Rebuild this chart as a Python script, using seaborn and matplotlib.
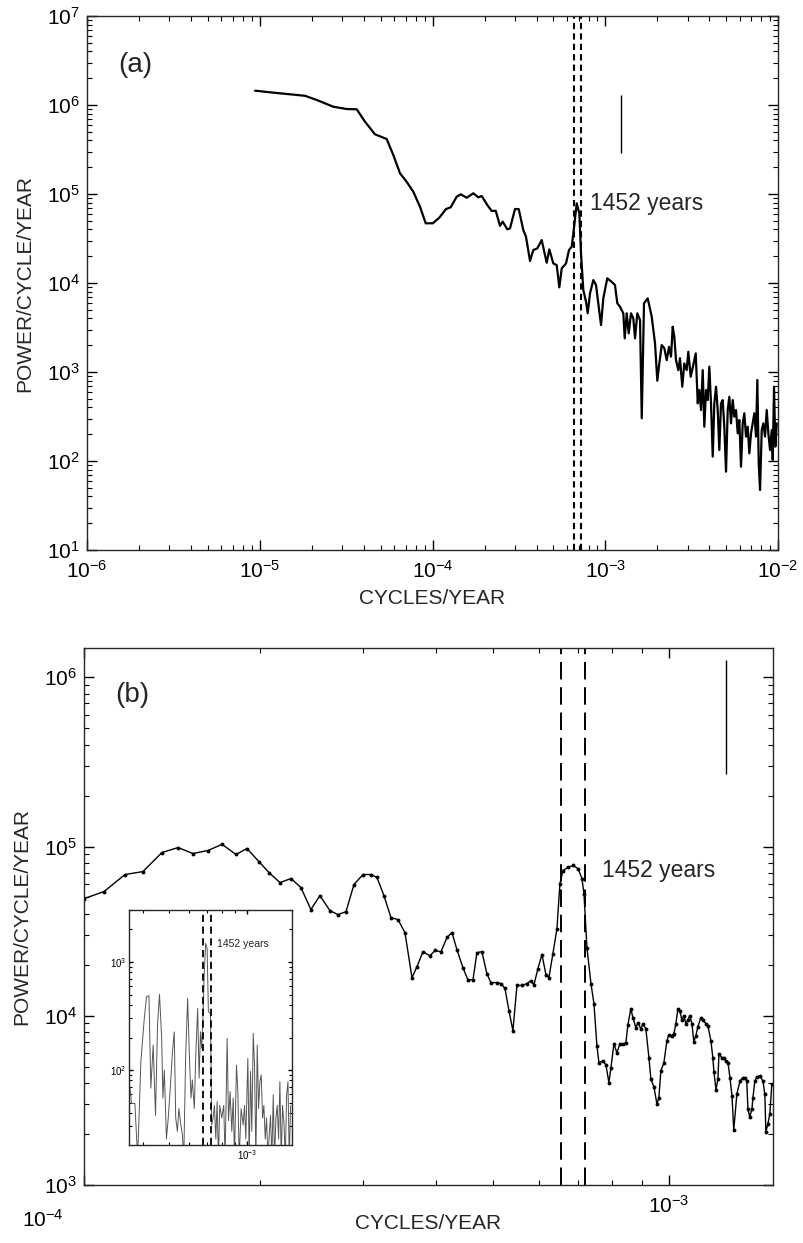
import numpy as np
import matplotlib
matplotlib.use("Agg")
import matplotlib.pyplot as plt
import matplotlib.transforms as mtransforms
import seaborn as sns
from matplotlib.ticker import LogLocator, NullFormatter

# === Data: panel (a), full spectrum ===
a_freq = [9.39e-6, 1.146e-5, 1.828e-5, 2.136e-5, 2.666e-5, 3.187e-5, 3.641e-5, 4.067e-5, 4.645e-5, 5.430e-5,
          5.932e-5, 6.485e-5, 7.089e-5, 7.744e-5, 8.465e-5, 9.133e-5, 1.003e-4, 1.095e-4, 1.197e-4, 1.274e-4,
          1.380e-4, 1.456e-4, 1.578e-4, 1.722e-4, 1.841e-4, 1.927e-4, 2.076e-4, 2.202e-4, 2.322e-4, 2.459e-4,
          2.549e-4, 2.710e-4, 2.809e-4, 3.003e-4, 3.155e-4, 3.354e-4, 3.477e-4, 3.667e-4, 3.832e-4, 4.042e-4,
          4.285e-4, 4.581e-4, 4.743e-4, 5.003e-4, 5.234e-4, 5.420e-4, 5.596e-4, 5.926e-4, 6.168e-4, 6.394e-4,
          6.620e-4, 6.834e-4, 7.076e-4, 7.237e-4, 7.462e-4, 7.736e-4, 7.913e-4, 8.159e-4, 8.526e-4, 8.840e-4,
          9.115e-4, 9.450e-4, 9.743e-4, 1.027e-3, 1.090e-3, 1.138e-3, 1.174e-3, 1.217e-3, 1.272e-3, 1.296e-3,
          1.331e-3, 1.367e-3, 1.409e-3, 1.453e-3, 1.487e-3, 1.533e-3, 1.589e-3, 1.626e-3, 1.676e-3, 1.761e-3,
          1.857e-3, 1.941e-3, 2.001e-3, 2.055e-3, 2.122e-3, 2.197e-3, 2.268e-3, 2.339e-3, 2.402e-3, 2.457e-3,
          2.510e-3, 2.567e-3, 2.647e-3, 2.707e-3, 2.791e-3, 2.867e-3, 2.960e-3, 3.024e-3, 3.123e-3, 3.233e-3,
          3.339e-3, 3.429e-3, 3.503e-3, 3.583e-3, 3.665e-3, 3.744e-3, 3.830e-3, 3.917e-3, 4.002e-3, 4.093e-3,
          4.188e-3, 4.278e-3, 4.376e-3, 4.476e-3, 4.573e-3, 4.677e-3, 4.784e-3, 4.887e-3, 5.000e-3, 5.114e-3,
          5.225e-3, 5.344e-3, 5.466e-3, 5.584e-3, 5.712e-3, 5.843e-3, 5.969e-3, 6.106e-3, 6.246e-3, 6.381e-3,
          6.527e-3, 6.676e-3, 6.821e-3, 6.978e-3, 7.137e-3, 7.292e-3, 7.459e-3, 7.589e-3, 7.732e-3, 7.868e-3,
          8.048e-3, 8.222e-3, 8.410e-3, 8.602e-3, 8.789e-3, 8.990e-3, 9.195e-3, 9.318e-3, 9.480e-3, 9.647e-3,
          9.828e-3]
a_power = [1.45e6, 1.39e6, 1.27e6, 1.14e6, 9.57e5, 9.02e5, 8.96e5, 6.49e5, 4.69e5, 4.15e5,
           2.74e5, 1.71e5, 1.37e5, 1.06e5, 7.19e4, 4.69e4, 4.69e4, 5.42e4, 6.78e4, 7.09e4,
           9.33e4, 9.93e4, 9.08e4, 1.02e5, 9.18e4, 9.50e4, 7.52e4, 6.44e4, 6.49e4, 4.40e4,
           4.89e4, 4.01e4, 4.11e4, 6.78e4, 6.78e4, 3.94e4, 3.31e4, 1.77e4, 2.35e4, 2.45e4,
           3.04e4, 1.69e4, 2.39e4, 1.66e4, 1.59e4, 8.95e3, 1.46e4, 1.66e4, 2.35e4, 2.56e4,
           4.49e4, 7.87e4, 6.07e4, 2.16e4, 8.34e3, 6.17e3, 4.57e3, 7.66e3, 1.08e4, 9.50e3,
           5.92e3, 3.37e3, 6.73e3, 1.13e4, 1.03e4, 9.50e3, 5.92e3, 5.42e3, 4.57e3, 2.39e3,
           4.57e3, 2.72e3, 4.57e3, 4.01e3, 2.39e3, 4.57e3, 3.84e3, 302, 5.92e3, 6.73e3,
           4.18e3, 2.10e3, 798, 1.25e3, 2.01e3, 1.85e3, 1.36e3, 1.92e3, 1.49e3, 3.23e3,
           2.49e3, 1.36e3, 1.05e3, 1.43e3, 684, 1.25e3, 1.05e3, 1.69e3, 885, 1.20e3,
           1.62e3, 445, 628, 374, 1.05e3, 243, 628, 484, 1.15e3, 445,
           112, 445, 684, 374, 133, 445, 484, 243, 75.9, 374,
           527, 265, 484, 315, 374, 205, 289, 86.3, 265, 344,
           188, 243, 122, 205, 265, 344, 188, 813, 94.2, 47.2,
           223, 265, 188, 374, 205, 133, 223, 103, 684, 145,
           265]

# === Data: panel (b), zoom 1e-4 .. 1.5e-3 (frequency in units of 1e-4 cycles/year) ===
b_freq_e4 = [1.000, 1.082, 1.175, 1.261, 1.359, 1.448, 1.535, 1.629, 1.722, 1.819,
             1.899, 1.991, 2.071, 2.163, 2.259, 2.349, 2.443, 2.531, 2.633, 2.718,
             2.805, 2.894, 2.999, 3.095, 3.169, 3.257, 3.348, 3.442, 3.538, 3.637,
             3.709, 3.798, 3.904, 3.981, 4.077, 4.174, 4.257, 4.341, 4.445, 4.533,
             4.624, 4.697, 4.789, 4.885, 4.962, 5.081, 5.162, 5.245, 5.328, 5.412,
             5.498, 5.607, 5.719, 5.810, 5.878, 5.972, 6.067, 6.163, 6.236, 6.335,
             6.436, 6.512, 6.590, 6.721, 6.855, 6.991, 7.102, 7.158, 7.243, 7.358,
             7.445, 7.533, 7.593, 7.714, 7.805, 7.897, 7.960, 8.054, 8.149, 8.245,
             8.344, 8.443, 8.510, 8.610, 8.680, 8.782, 8.851, 8.955, 9.027, 9.133,
             9.245, 9.315, 9.428, 9.539, 9.614, 9.690, 9.806, 9.922, 10.00, 10.12,
             10.20, 10.28, 10.36, 10.44, 10.52, 10.61, 10.69, 10.78, 10.86, 10.95,
             11.03, 11.12, 11.21, 11.34, 11.43, 11.57, 11.66, 11.80, 11.89, 11.94,
             12.04, 12.13, 12.18, 12.32, 12.42, 12.52, 12.62, 12.72, 12.82, 12.91,
             13.07, 13.23, 13.38, 13.49, 13.59, 13.65, 13.75, 13.87, 13.92, 14.03,
             14.14, 14.31, 14.48, 14.59, 14.65, 14.77, 14.88, 15.00]
b_power = [4.92e4, 5.42e4, 6.83e4, 7.11e4, 9.21e4, 9.86e4, 9.09e4, 9.47e4, 1.03e5, 8.97e4,
           9.73e4, 8.15e4, 7.02e4, 6.12e4, 6.47e4, 5.72e4, 4.24e4, 5.13e4, 4.18e4, 3.96e4,
           4.12e4, 5.96e4, 6.83e4, 6.83e4, 6.56e4, 5.13e4, 3.80e4, 3.70e4, 3.10e4, 1.68e4,
           1.95e4, 2.39e4, 2.26e4, 2.43e4, 2.39e4, 2.90e4, 3.10e4, 2.46e4, 1.92e4, 1.63e4,
           1.63e4, 2.36e4, 2.39e4, 1.77e4, 1.57e4, 1.57e4, 1.55e4, 1.45e4, 1.07e4, 8.15e3,
           1.51e4, 1.51e4, 1.55e4, 1.61e4, 1.52e4, 1.90e4, 2.30e4, 1.75e4, 1.68e4, 2.33e4,
           3.27e4, 6.04e4, 7.21e4, 7.52e4, 7.73e4, 7.41e4, 6.47e4, 5.27e4, 2.52e4, 1.55e4,
           1.18e4, 6.64e3, 5.27e3, 5.42e3, 5.13e3, 4.02e3, 4.92e3, 6.82e3, 6.04e3, 6.82e3,
           6.82e3, 6.92e3, 8.85e3, 1.10e4, 9.73e3, 8.49e3, 9.10e3, 8.38e3, 8.97e3, 8.38e3,
           5.64e3, 4.24e3, 3.80e3, 3.01e3, 3.27e3, 4.73e3, 5.27e3, 7.11e3, 7.73e3, 7.62e3,
           7.82e3, 8.97e3, 1.10e4, 1.07e4, 9.47e3, 1.0e4, 8.97e3, 9.47e3, 1.0e4, 8.97e3,
           7.02e3, 7.62e3, 8.61e3, 9.73e3, 9.47e3, 8.97e3, 8.73e3, 7.11e3, 5.64e3, 4.67e3,
           3.65e3, 4.24e3, 5.96e3, 5.64e3, 5.64e3, 5.42e3, 5.27e3, 4.30e3, 3.37e3, 2.11e3,
           3.45e3, 4.12e3, 4.30e3, 4.30e3, 4.12e3, 2.82e3, 2.52e3, 2.82e3, 3.27e3, 4.12e3,
           4.36e3, 4.41e3, 4.12e3, 3.45e3, 2.06e3, 2.30e3, 2.63e3, 3.96e3]

# === Data: inset (frequency in units of 1e-4 cycles/year) ===
in_freq_e4 = [3.55, 3.60, 3.71, 3.80, 3.91, 4.03, 4.11, 4.20, 4.27, 4.36,
              4.45, 4.53, 4.61, 4.70, 4.75, 4.81, 4.90, 4.98, 5.07, 5.16,
              5.25, 5.32, 5.40, 5.47, 5.56, 5.64, 5.71, 5.81, 5.91, 6.02,
              6.09, 6.16, 6.27, 6.35, 6.46, 6.54, 6.62, 6.69, 6.77, 6.85,
              6.93, 7.02, 7.10, 7.23, 7.31, 7.40, 7.49, 7.58, 7.67, 7.76,
              7.85, 7.99, 8.13, 8.23, 8.38, 8.48, 8.60, 8.73, 8.84, 8.94,
              9.10, 9.21, 9.32, 9.48, 9.65, 9.77, 9.88, 10.06, 10.18, 10.30,
              10.42, 10.55, 10.67, 10.80, 10.93, 11.06, 11.19, 11.32, 11.46, 11.59,
              11.73, 11.87, 12.01, 12.15, 12.29, 12.44, 12.59, 12.74, 12.89, 13.04,
              13.20, 13.35, 13.51, 13.67, 13.84, 14.00, 14.17, 14.34, 14.50, 14.68]
in_power = [70, 49, 49, 15, 119, 301, 477, 488, 68, 170,
            38, 261, 502, 196, 55, 100, 23, 36, 68, 138,
            226, 36, 27, 44, 32, 25, 15, 138, 461, 111,
            55, 81, 44, 138, 372, 84, 226, 159, 323, 814,
            1489, 1339, 347, 335, 31, 36, 47, 23, 51, 15,
            47, 36, 47, 15, 196, 34, 63, 27, 55, 15,
            111, 63, 15, 44, 31, 47, 23, 128, 15, 97,
            27, 219, 111, 15, 170, 44, 78, 90, 36, 47,
            23, 36, 15, 25, 38, 15, 59, 15, 36, 47,
            23, 78, 15, 47, 32, 15, 59, 78, 15, 47]

# band edges around the 1452-year peak, and the error bars
band_main = [6.55e-4, 7.2e-4]
band_inset = [6.75e-4, 7.27e-4]
errbar_a = (1.23e-3, 2.9e5, 1.3e6)
errbar_b = (1.25e-3, 2.7e5, 1.26e6)
peak_label = '1452 years'

b_freq = [f * 1e-4 for f in b_freq_e4]
in_freq = [f * 1e-4 for f in in_freq_e4]

# === Style ===
sns.set_style("ticks")
plt.rcParams['font.family'] = ['Liberation Sans', 'DejaVu Sans']
plt.rcParams['mathtext.default'] = 'regular'
plt.rcParams['axes.linewidth'] = 1.0


def style_log_axes(ax, size=15, major=7, minor=3.5, xpad=7, ypad=5):
    ax.set_xscale('log')
    ax.set_yscale('log')
    ax.xaxis.set_minor_locator(LogLocator(base=10, subs=np.arange(2, 10), numticks=50))
    ax.yaxis.set_minor_locator(LogLocator(base=10, subs=np.arange(2, 10), numticks=50))
    ax.xaxis.set_minor_formatter(NullFormatter())
    ax.yaxis.set_minor_formatter(NullFormatter())
    ax.tick_params(which='both', direction='in', top=True, right=True, labelsize=size, colors='black')
    ax.tick_params(which='major', length=major, width=1)
    ax.tick_params(which='minor', length=minor, width=0.8)
    ax.tick_params(axis='x', which='major', pad=xpad)
    ax.tick_params(axis='y', which='major', pad=ypad)


fig = plt.figure(figsize=(8.04, 12.43), dpi=100)

# === Panel (a) ===
ax_a = fig.add_axes([0.1082, 0.5575, 0.8595, 0.4296])
ax_a.set_xscale('log')
ax_a.set_yscale('log')
sns.lineplot(x=a_freq, y=a_power, ax=ax_a, color='black', lw=1.6, estimator=None, sort=False)
for f in band_main:
    ax_a.axvline(f, color='black', ls=(0, (3, 2)), lw=1.5)
ax_a.vlines(errbar_a[0], errbar_a[1], errbar_a[2], color='black', lw=1.0)
ax_a.text(8.2e-4, 7.9e4, peak_label, fontsize=16.5, va='center', ha='left')
ax_a.text(0.045, 0.908, '(a)', transform=ax_a.transAxes, fontsize=20, va='center')
style_log_axes(ax_a)
ax_a.set_xlim(1e-6, 1e-2)
ax_a.set_ylim(1e1, 1e7)
ax_a.set_xlabel('CYCLES/YEAR', fontsize=15, labelpad=5)
ax_a.set_ylabel('POWER/CYCLE/YEAR', fontsize=15, labelpad=9)

# === Panel (b) ===
ax_b = fig.add_axes([0.1045, 0.0467, 0.857, 0.432])
ax_b.set_xscale('log')
ax_b.set_yscale('log')
sns.lineplot(x=b_freq, y=b_power, ax=ax_b, color='black', lw=1.0, marker='o',
             markersize=2.8, markeredgewidth=0, estimator=None, sort=False)
for f in band_main:
    ax_b.axvline(f, color='black', ls=(0, (9, 4)), lw=1.4)
ax_b.vlines(errbar_b[0], errbar_b[1], errbar_b[2], color='black', lw=1.0)
ax_b.text(7.68e-4, 7.2e4, peak_label, fontsize=16.5, va='center', ha='left')
ax_b.text(0.045, 0.912, '(b)', transform=ax_b.transAxes, fontsize=20, va='center')
style_log_axes(ax_b)
ax_b.set_xlim(1e-4, 1.507e-3)
ax_b.set_ylim(1e3, 1.49e6)
ax_b.set_xlabel('CYCLES/YEAR', fontsize=15)
ax_b.xaxis.set_label_coords(0.5, -0.054)
ax_b.set_ylabel('POWER/CYCLE/YEAR', fontsize=15, labelpad=9)

# === Inset ===
ax_in = fig.add_axes([0.1604, 0.0788, 0.2027, 0.1891], zorder=5)
ax_in.set_facecolor('white')
ax_in.set_xscale('log')
ax_in.set_yscale('log')
sns.lineplot(x=in_freq, y=in_power, ax=ax_in, color='#555555', lw=0.7, estimator=None, sort=False)
for f in band_inset:
    ax_in.axvline(f, color='black', ls=(0, (4, 2.5)), lw=1.3)
ax_in.text(7.64e-4, 1468, peak_label, fontsize=7.5, va='center', ha='left')
style_log_axes(ax_in, size=7, major=3, minor=2, xpad=2, ypad=2)
ax_in.set_xlim(3.52e-4, 1.485e-3)
ax_in.set_ylim(20.2, 3030)
ax_in.set_xlabel('')
ax_in.set_ylabel('')

# the lowest x label of panel (b) sits left/below the corner, as in the original
fig.canvas.draw()
shift = mtransforms.ScaledTranslation(-30 / 72, -10 / 72, fig.dpi_scale_trans)
for tick in ax_b.xaxis.get_major_ticks():
    if abs(tick.get_loc() - 1e-4) < 1e-9:
        tick.label1.set_transform(tick.label1.get_transform() + shift)

fig.savefig('out.png', dpi=100)
